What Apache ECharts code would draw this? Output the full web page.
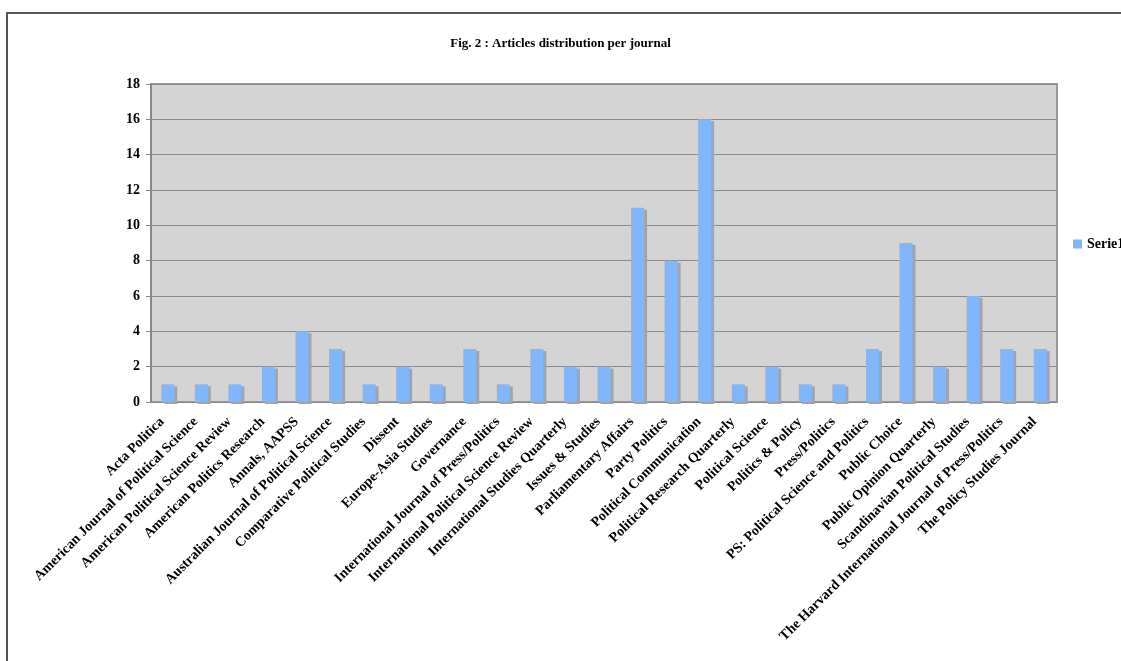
<!DOCTYPE html>
<html>
<head>
<meta charset="utf-8">
<script src="https://cdn.jsdelivr.net/npm/echarts@6/dist/echarts.min.js"></script>
<style>
  html, body { margin: 0; padding: 0; background: #fff; }
  #chart { width: 1121px; height: 661px; }
</style>
</head>
<body>
<div id="chart"></div>
<script>
'use strict';

const journals = [
  'Acta Politica',
  'American Journal of Political Science',
  'American Political Science Review',
  'American Politics Research',
  'Annals, AAPSS',
  'Australian Journal of Political Science',
  'Comparative Political Studies',
  'Dissent',
  'Europe-Asia Studies',
  'Governance',
  'International Journal of Press/Politics',
  'International Political Science Review',
  'International Studies Quarterly',
  'Issues & Studies',
  'Parliamentary Affairs',
  'Party Politics',
  'Political Communication',
  'Political Research Quarterly',
  'Political Science',
  'Politics & Policy',
  'Press/Politics',
  'PS: Political Science and Politics',
  'Public Choice',
  'Public Opinion Quarterly',
  'Scandinavian Political Studies',
  'The Harvard International Journal of Press/Politics',
  'The Policy Studies Journal'
];
const serie1 = [1, 1, 1, 2, 4, 3, 1, 2, 1, 3, 1, 3, 2, 2, 11, 8, 16, 1, 2, 1, 1, 3, 9, 2, 6, 3, 3];

const serif = "'Liberation Serif', 'Times New Roman', serif";

const myChart = echarts.init(document.getElementById('chart'), null, { renderer: 'canvas' });

const option = {
  animation: false,
  title: {
    text: 'Fig. 2 : Articles distribution per journal',
    left: 'center',
    top: 32,
    textStyle: { fontFamily: serif, fontSize: 13, fontWeight: 'bold', color: '#000' }
  },
  legend: {
    data: ['Serie1'],
    left: 1068,
    top: 232,
    icon: 'rect',
    itemWidth: 9,
    itemHeight: 9,
    textStyle: { fontFamily: serif, fontSize: 14, fontWeight: 'bold', color: '#000' }
  },
  graphic: [{
    type: 'rect',
    shape: { x: 7, y: 13, width: 2000, height: 2000 },
    style: { fill: 'none', stroke: '#555', lineWidth: 2 },
    silent: true
  }],
  grid: {
    left: 151, top: 84, width: 906, height: 318,
    show: true,
    backgroundColor: '#d4d4d4',
    borderColor: '#9a9a9a',
    borderWidth: 2
  },
  xAxis: {
    type: 'category',
    data: journals,
    axisLine: { lineStyle: { color: '#888', width: 1 } },
    axisTick: { length: 5, lineStyle: { color: '#888' } },
    axisLabel: {
      rotate: 45,
      interval: 0,
      margin: 12,
      padding: [0, 8, 0, 0],
      fontFamily: serif,
      fontSize: 14,
      fontWeight: 'bold',
      color: '#000'
    }
  },
  yAxis: {
    type: 'value',
    min: 0,
    max: 18,
    interval: 2,
    axisLine: { show: true, lineStyle: { color: '#888', width: 2 } },
    axisTick: { show: true, length: 5, lineStyle: { color: '#888' } },
    axisLabel: {
      margin: 11,
      fontFamily: serif,
      fontSize: 14,
      fontWeight: 'bold',
      color: '#000'
    },
    splitLine: { lineStyle: { color: '#8a8a8a', width: 1 } }
  },
  series: [{
    name: 'Serie1',
    type: 'bar',
    data: serie1,
    barWidth: 13,
    itemStyle: {
      color: '#80b6fc',
      shadowColor: '#a4a4a4',
      shadowOffsetX: 3,
      shadowOffsetY: 2,
      shadowBlur: 0
    }
  }]
};

option && myChart.setOption(option);
</script>
</body>
</html>
